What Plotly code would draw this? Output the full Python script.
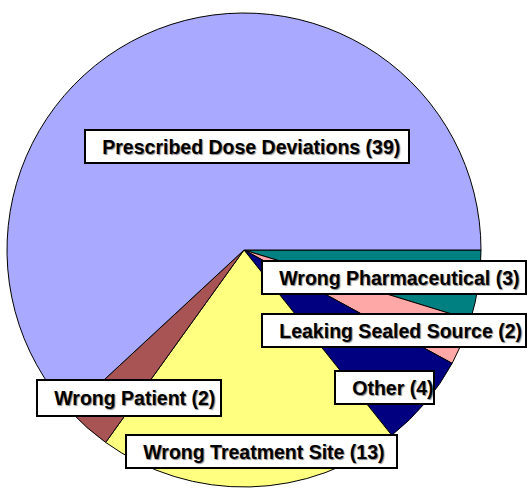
import plotly.graph_objects as go

labels = ["Wrong Pharmaceutical", "Leaking Sealed Source", "Other",
          "Wrong Treatment Site", "Wrong Patient", "Prescribed Dose Deviations"]
values = [3, 2, 4, 13, 2, 39]
colors = ["#008080", "#FFA8A8", "#000080", "#FFFF80", "#A85454", "#A9A9FF"]

W, H = 528, 491

fig = go.Figure(go.Pie(
    labels=labels, values=values, sort=False, direction="clockwise", rotation=90,
    marker=dict(colors=colors, line=dict(color="black", width=1)),
    textinfo="none", hoverinfo="label+value", showlegend=False,
    domain=dict(x=[7 / W, 481 / W], y=[(H - 489) / H, (H - 11) / H]),
))

# label boxes: (label index, left, top, width, height) in pixels
boxes = [
    (5, 84, 129, 322, 31),
    (0, 261, 260, 262, 31),
    (1, 261, 313, 262, 31),
    (2, 334, 370, 97, 31),
    (4, 36, 379, 182, 34),
    (3, 125, 434, 269, 31),
]
pad = "&nbsp;" * 3
for i, left, top, w, h in boxes:
    fig.add_annotation(
        xref="paper", yref="paper", x=left / W, y=1 - top / H,
        xanchor="left", yanchor="top", width=w, height=h,
        text=f"{pad}<b>{labels[i]} ({values[i]})</b>", showarrow=False,
        font=dict(family="Liberation Sans, Arial", size=19.5, color="black",
                  shadow="1px 1px 1px #888"),
        bgcolor="white", bordercolor="black", borderwidth=2, borderpad=0,
        align="left", valign="middle",
    )

fig.update_layout(width=W, height=H, margin=dict(l=0, r=0, t=0, b=0),
                  paper_bgcolor="white", plot_bgcolor="white")
fig.write_html("out.html", config={"displayModeBar": False},
               post_script="document.body.style.margin='0';document.body.style.overflow='hidden';")
